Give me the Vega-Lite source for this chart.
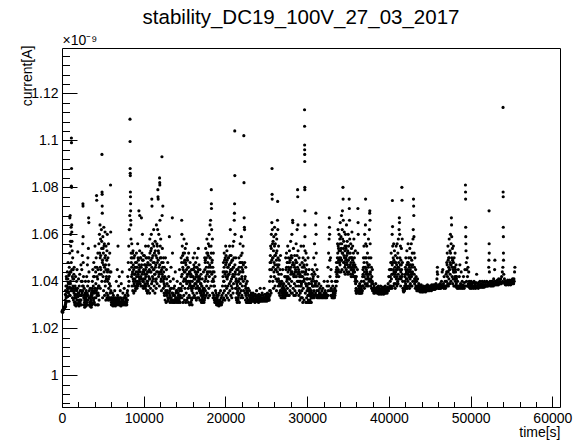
{
"$schema": "https://vega.github.io/schema/vega-lite/v6.json",
"width": 498,
"height": 359,
"autosize": {"type": "none"},
"padding": {"left": 62, "top": 48, "right": 17, "bottom": 33},
"background": "white",
"config": {
  "view": {"stroke": "black", "strokeWidth": 1},
  "font": "Liberation Sans",
  "axis": {"grid": false, "domain": false, "labelColor": "black", "titleColor": "black", "tickColor": "black", "labelFont": "Liberation Sans", "titleFont": "Liberation Sans", "titleFontWeight": "normal"}
},
"title": {"text": "stability_DC19_100V_27_03_2017", "fontSize": 20.5, "font": "Liberation Sans", "fontWeight": "normal", "color": "black", "anchor": "middle", "dx": -10, "offset": 5},
"datasets": {"pts": [
{"t":0,"c":1.027},{"t":40,"c":1.0275},{"t":90,"c":1.0268},{"t":130,"c":1.028},{"t":180,"c":1.0278},{"t":230,"c":1.0285},{"t":270,"c":1.029},{"t":320,"c":1.0283},{"t":370,"c":1.0295},{"t":410,"c":1.03},{"t":450,"c":1.031},{"t":440,"c":1.0292},
{"t":390,"c":1.032},{"t":420,"c":1.0345},{"t":450,"c":1.0305},{"t":480,"c":1.038},{"t":510,"c":1.033},{"t":550,"c":1.041},{"t":580,"c":1.0355},{"t":620,"c":1.0315},{"t":650,"c":1.044},{"t":680,"c":1.037},{"t":710,"c":1.0335},{"t":740,"c":1.048},{"t":770,"c":1.0395},{"t":800,"c":1.035},{"t":830,"c":1.0425},{"t":860,"c":1.0315},{"t":890,"c":1.046},{"t":920,"c":1.0375},{"t":950,"c":1.052},{"t":980,"c":1.034},{"t":1010,"c":1.044},{"t":1040,"c":1.04},{"t":1070,"c":1.055},{"t":1100,"c":1.036},{"t":1130,"c":1.048},{"t":1150,"c":1.101},{"t":1160,"c":1.099},{"t":1170,"c":1.088},{"t":1150,"c":1.0805},{"t":1180,"c":1.08},{"t":1190,"c":1.064},{"t":1200,"c":1.061},{"t":1220,"c":1.057},{"t":1240,"c":1.053},{"t":1260,"c":1.042},{"t":1280,"c":1.033},{"t":1310,"c":1.05},{"t":1340,"c":1.038},{"t":1370,"c":1.045},{"t":1400,"c":1.032},{"t":1430,"c":1.041},{"t":1460,"c":1.035},{"t":1490,"c":1.046},{"t":1520,"c":1.031},{"t":960,"c":1.067},{"t":1000,"c":1.068},{"t":1060,"c":1.06},{"t":1110,"c":1.063},{"t":1040,"c":1.057},
{"t":1540,"c":1.033},{"t":1570,"c":1.03},{"t":1600,"c":1.038},{"t":1630,"c":1.031},{"t":1660,"c":1.042},{"t":1690,"c":1.0345},{"t":1720,"c":1.0295},{"t":1750,"c":1.0365},{"t":1780,"c":1.04},{"t":1810,"c":1.032},{"t":1840,"c":1.045},{"t":1870,"c":1.0305},{"t":1900,"c":1.037},{"t":1930,"c":1.0525},{"t":1960,"c":1.0335},{"t":1990,"c":1.03},{"t":2020,"c":1.041},{"t":2050,"c":1.035},{"t":2080,"c":1.0295},{"t":2110,"c":1.038},{"t":2140,"c":1.032},{"t":2170,"c":1.043},{"t":2200,"c":1.031},{"t":2230,"c":1.036},{"t":2260,"c":1.03},{"t":2290,"c":1.034},{"t":2320,"c":1.047},
{"t":2330,"c":1.032},{"t":2360,"c":1.04},{"t":2390,"c":1.03},{"t":2420,"c":1.045},{"t":2450,"c":1.035},{"t":2480,"c":1.051},{"t":2510,"c":1.038},{"t":2540,"c":1.056},{"t":2560,"c":1.073},{"t":2570,"c":1.072},{"t":2580,"c":1.059},{"t":2600,"c":1.048},{"t":2630,"c":1.042},{"t":2660,"c":1.033},{"t":2690,"c":1.03},{"t":2720,"c":1.037},{"t":2750,"c":1.031},{"t":2780,"c":1.029},{"t":2810,"c":1.035},{"t":2840,"c":1.03},{"t":2870,"c":1.04},{"t":2900,"c":1.032},{"t":2930,"c":1.0295},{"t":2960,"c":1.036},{"t":2990,"c":1.031},{"t":3020,"c":1.042},{"t":3050,"c":1.034},{"t":3080,"c":1.03},{"t":3110,"c":1.047},{"t":3140,"c":1.038},{"t":3170,"c":1.05},{"t":3200,"c":1.032},{"t":3230,"c":1.054},{"t":3260,"c":1.067},{"t":3280,"c":1.065},{"t":3300,"c":1.044},{"t":3330,"c":1.036},{"t":3360,"c":1.03},{"t":3390,"c":1.033},{"t":3420,"c":1.0295},{"t":3450,"c":1.037},{"t":3480,"c":1.031},{"t":3510,"c":1.03},{"t":3540,"c":1.034},{"t":3570,"c":1.029},{"t":3600,"c":1.035},
{"t":3620,"c":1.031},{"t":3650,"c":1.036},{"t":3680,"c":1.03},{"t":3710,"c":1.04},{"t":3740,"c":1.033},{"t":3770,"c":1.045},{"t":3800,"c":1.0305},{"t":3830,"c":1.038},{"t":3860,"c":1.032},{"t":3890,"c":1.048},{"t":3920,"c":1.035},{"t":3950,"c":1.031},{"t":3980,"c":1.042},{"t":4040,"c":1.055},{"t":4060,"c":1.037},{"t":4090,"c":1.03},{"t":4120,"c":1.044},{"t":4150,"c":1.033},{"t":4180,"c":1.05},{"t":4210,"c":1.036},{"t":4230,"c":1.0765},{"t":4250,"c":1.0745},{"t":4270,"c":1.046},{"t":4300,"c":1.034},{"t":4330,"c":1.03},{"t":4360,"c":1.041},{"t":4390,"c":1.052},{"t":4420,"c":1.035},{"t":4450,"c":1.03},{"t":4480,"c":1.038},{"t":4510,"c":1.056},{"t":4540,"c":1.032},{"t":4570,"c":1.043},
{"t":4580,"c":1.06},{"t":4650,"c":1.064},{"t":4670,"c":1.05},{"t":4690,"c":1.037},{"t":4720,"c":1.058},{"t":4750,"c":1.045},{"t":4850,"c":1.054},{"t":4880,"c":1.04},{"t":4890,"c":1.094},{"t":4900,"c":1.078},{"t":4910,"c":1.077},{"t":4920,"c":1.072},{"t":4930,"c":1.069},{"t":4940,"c":1.048},{"t":4820,"c":1.062},{"t":4970,"c":1.033},{"t":5000,"c":1.059},{"t":5030,"c":1.042},{"t":5060,"c":1.052},{"t":5090,"c":1.036},{"t":5120,"c":1.063},{"t":5150,"c":1.044},{"t":5180,"c":1.056},{"t":5210,"c":1.034},{"t":5240,"c":1.05},{"t":5270,"c":1.061},{"t":5300,"c":1.038},{"t":5330,"c":1.047},{"t":5360,"c":1.032},{"t":5390,"c":1.055},{"t":5420,"c":1.041},{"t":5450,"c":1.035},{"t":5480,"c":1.049},{"t":5510,"c":1.033},{"t":5540,"c":1.06},{"t":5570,"c":1.04},{"t":5600,"c":1.034},{"t":5630,"c":1.045},{"t":5660,"c":1.032},{"t":5690,"c":1.056},{"t":5720,"c":1.037},{"t":5750,"c":1.033},{"t":5780,"c":1.042},{"t":5810,"c":1.033},{"t":5840,"c":1.052},{"t":5870,"c":1.035},{"t":5900,"c":1.032},{"t":5940,"c":1.081},{"t":5960,"c":1.061},{"t":5990,"c":1.044},{"t":6020,"c":1.033},{"t":6050,"c":1.03},
{"t":6050,"c":1.031},{"t":6090,"c":1.033},{"t":6130,"c":1.03},{"t":6170,"c":1.035},{"t":6210,"c":1.031},{"t":6250,"c":1.0295},{"t":6290,"c":1.034},{"t":6330,"c":1.0305},{"t":6370,"c":1.032},{"t":6410,"c":1.03},{"t":6450,"c":1.036},{"t":6490,"c":1.031},{"t":6530,"c":1.0295},{"t":6570,"c":1.033},{"t":6610,"c":1.0305},{"t":6650,"c":1.04},{"t":6690,"c":1.032},{"t":6730,"c":1.03},{"t":6770,"c":1.045},{"t":6810,"c":1.034},{"t":6850,"c":1.055},{"t":6890,"c":1.031},{"t":6930,"c":1.038},{"t":6970,"c":1.03},{"t":7010,"c":1.042},{"t":7050,"c":1.033},{"t":7090,"c":1.03},{"t":7130,"c":1.036},{"t":7170,"c":1.031},{"t":7210,"c":1.0295},{"t":7250,"c":1.039},{"t":7290,"c":1.032},{"t":7330,"c":1.03},{"t":7370,"c":1.044},{"t":7410,"c":1.031},{"t":7450,"c":1.035},{"t":7490,"c":1.03},{"t":7530,"c":1.033},{"t":7570,"c":1.0305},{"t":7610,"c":1.037},{"t":7650,"c":1.031},{"t":7690,"c":1.03},{"t":7730,"c":1.034},{"t":7770,"c":1.031},{"t":7810,"c":1.03},{"t":7850,"c":1.033},{"t":7890,"c":1.031},{"t":7930,"c":1.03},{"t":7970,"c":1.035},{"t":8010,"c":1.032},
{"t":8020,"c":1.036},{"t":8050,"c":1.042},{"t":8080,"c":1.034},{"t":8110,"c":1.048},{"t":8140,"c":1.038},{"t":8170,"c":1.055},{"t":8200,"c":1.04},{"t":8230,"c":1.062},{"t":8260,"c":1.045},{"t":8290,"c":1.068},{"t":8320,"c":1.109},{"t":8330,"c":1.0995},{"t":8340,"c":1.088},{"t":8350,"c":1.086},{"t":8360,"c":1.085},{"t":8370,"c":1.078},{"t":8380,"c":1.076},{"t":8390,"c":1.073},{"t":8400,"c":1.07},{"t":8410,"c":1.066},{"t":8420,"c":1.064},{"t":8440,"c":1.058},{"t":8460,"c":1.052},{"t":8480,"c":1.048},{"t":8510,"c":1.042},{"t":8540,"c":1.056},{"t":8570,"c":1.038},{"t":8600,"c":1.05},{"t":8630,"c":1.044},{"t":8660,"c":1.036},{"t":8690,"c":1.053},{"t":8720,"c":1.047},{"t":8750,"c":1.04},{"t":8780,"c":1.035},{"t":8810,"c":1.05},{"t":8840,"c":1.043},{"t":8870,"c":1.038},{"t":8900,"c":1.046},{"t":8930,"c":1.041},{"t":8960,"c":1.036},{"t":8990,"c":1.048},{"t":9020,"c":1.04},{"t":9050,"c":1.044},{"t":9080,"c":1.038},{"t":9110,"c":1.052},{"t":9140,"c":1.042},{"t":9170,"c":1.037},{"t":9200,"c":1.046},{"t":9230,"c":1.04},{"t":9260,"c":1.056},{"t":9290,"c":1.038},{"t":9320,"c":1.043},{"t":9350,"c":1.049},{"t":9380,"c":1.039},{"t":9410,"c":1.07},{"t":9440,"c":1.045},{"t":9470,"c":1.04},{"t":9500,"c":1.053},
{"t":9510,"c":1.068},{"t":9540,"c":1.044},{"t":9570,"c":1.039},{"t":9600,"c":1.05},{"t":9630,"c":1.042},{"t":9660,"c":1.038},{"t":9690,"c":1.046},{"t":9720,"c":1.067},{"t":9750,"c":1.041},{"t":9780,"c":1.052},{"t":9810,"c":1.038},{"t":9840,"c":1.06},{"t":9870,"c":1.044},{"t":9900,"c":1.04},{"t":9930,"c":1.049},{"t":9960,"c":1.037},{"t":9990,"c":1.045},{"t":10020,"c":1.041},{"t":10050,"c":1.038},{"t":10080,"c":1.051},{"t":10110,"c":1.043},{"t":10140,"c":1.039},{"t":10170,"c":1.047},{"t":10200,"c":1.037},{"t":10230,"c":1.055},{"t":10260,"c":1.042},{"t":10290,"c":1.038},{"t":10320,"c":1.046},{"t":10350,"c":1.036},{"t":10380,"c":1.05},{"t":10410,"c":1.04},{"t":10440,"c":1.035},{"t":10470,"c":1.044},
{"t":10480,"c":1.04},{"t":10510,"c":1.048},{"t":10540,"c":1.036},{"t":10570,"c":1.055},{"t":10600,"c":1.042},{"t":10630,"c":1.038},{"t":10660,"c":1.05},{"t":10690,"c":1.045},{"t":10720,"c":1.035},{"t":10750,"c":1.058},{"t":10780,"c":1.041},{"t":10810,"c":1.047},{"t":10840,"c":1.037},{"t":10870,"c":1.053},{"t":10900,"c":1.044},{"t":10930,"c":1.06},{"t":10960,"c":1.039},{"t":10990,"c":1.075},{"t":11010,"c":1.072},{"t":11040,"c":1.05},{"t":11070,"c":1.042},{"t":11100,"c":1.056},{"t":11130,"c":1.036},{"t":11160,"c":1.048},{"t":11190,"c":1.041},{"t":11220,"c":1.062},{"t":11250,"c":1.045},{"t":11280,"c":1.038},{"t":11310,"c":1.052},{"t":11340,"c":1.043},{"t":11370,"c":1.035},{"t":11400,"c":1.057},{"t":11430,"c":1.046},{"t":11460,"c":1.04},{"t":11490,"c":1.051},{"t":11520,"c":1.037},{"t":11550,"c":1.064},{"t":11580,"c":1.044},{"t":11610,"c":1.056},{"t":11640,"c":1.039},{"t":11670,"c":1.048},{"t":11700,"c":1.062},{"t":11730,"c":1.079},{"t":11750,"c":1.076},{"t":11770,"c":1.075},{"t":11790,"c":1.053},{"t":11820,"c":1.042},{"t":11850,"c":1.06},{"t":11880,"c":1.046},{"t":11910,"c":1.038},{"t":11940,"c":1.084},{"t":11960,"c":1.082},{"t":11970,"c":1.081},{"t":11990,"c":1.066},{"t":12020,"c":1.055},{"t":12050,"c":1.044},{"t":12080,"c":1.058},{"t":12110,"c":1.04},{"t":12140,"c":1.05},{"t":12170,"c":1.036},{"t":12200,"c":1.045},{"t":12230,"c":1.093},{"t":12250,"c":1.068},{"t":12280,"c":1.054},{"t":12310,"c":1.042},{"t":12340,"c":1.072},{"t":12370,"c":1.048},{"t":12400,"c":1.037},{"t":12430,"c":1.05},{"t":12460,"c":1.041},{"t":12490,"c":1.035},{"t":12520,"c":1.046},{"t":12550,"c":1.038},
{"t":12540,"c":1.034},{"t":12580,"c":1.042},{"t":12620,"c":1.032},{"t":12660,"c":1.05},{"t":12700,"c":1.036},{"t":12740,"c":1.031},{"t":12780,"c":1.045},{"t":12820,"c":1.034},{"t":12860,"c":1.039},{"t":12900,"c":1.0315},{"t":12940,"c":1.048},{"t":12980,"c":1.035},{"t":13020,"c":1.032},{"t":13060,"c":1.042},{"t":13100,"c":1.033},{"t":13140,"c":1.059},{"t":13180,"c":1.036},{"t":13220,"c":1.031},{"t":13260,"c":1.04},{"t":13300,"c":1.033},{"t":13340,"c":1.046},{"t":13380,"c":1.032},{"t":13420,"c":1.037},{"t":13460,"c":1.031},{"t":13500,"c":1.067},{"t":13520,"c":1.052},{"t":13540,"c":1.035},{"t":13580,"c":1.032},{"t":13620,"c":1.041},{"t":13660,"c":1.031},{"t":13700,"c":1.034},{"t":13740,"c":1.032},{"t":13780,"c":1.038},{"t":13820,"c":1.031},{"t":13860,"c":1.044},{"t":13900,"c":1.033},{"t":13940,"c":1.0315},{"t":13980,"c":1.036},{"t":14020,"c":1.032},{"t":14060,"c":1.031},{"t":14100,"c":1.04},{"t":14140,"c":1.033},{"t":14180,"c":1.0315},{"t":14220,"c":1.035},{"t":14260,"c":1.031},{"t":14300,"c":1.037},{"t":14340,"c":1.032},{"t":14380,"c":1.045},{"t":14420,"c":1.034},{"t":14460,"c":1.031},{"t":14500,"c":1.039},{"t":14540,"c":1.033},{"t":14580,"c":1.05},{"t":14620,"c":1.036},
{"t":14620,"c":1.042},{"t":14650,"c":1.066},{"t":14670,"c":1.06},{"t":14690,"c":1.033},{"t":14720,"c":1.055},{"t":14750,"c":1.038},{"t":14780,"c":1.046},{"t":14810,"c":1.031},{"t":14840,"c":1.052},{"t":14870,"c":1.04},{"t":14900,"c":1.034},{"t":14930,"c":1.058},{"t":14960,"c":1.044},{"t":14990,"c":1.032},{"t":15020,"c":1.049},{"t":15050,"c":1.037},{"t":15080,"c":1.054},{"t":15110,"c":1.041},{"t":15140,"c":1.031},{"t":15170,"c":1.047},{"t":15200,"c":1.035},{"t":15230,"c":1.056},{"t":15260,"c":1.039},{"t":15290,"c":1.032},{"t":15320,"c":1.05},{"t":15350,"c":1.043},{"t":15380,"c":1.033},{"t":15410,"c":1.046},{"t":15440,"c":1.037},{"t":15470,"c":1.031},{"t":15500,"c":1.052},{"t":15530,"c":1.04},{"t":15560,"c":1.034},{"t":15590,"c":1.044},{"t":15620,"c":1.03},{"t":15650,"c":1.039},{"t":15680,"c":1.048},{"t":15710,"c":1.033},{"t":15740,"c":1.042},{"t":15770,"c":1.031},{"t":15800,"c":1.037},{"t":15830,"c":1.045},{"t":15860,"c":1.032},{"t":15890,"c":1.036},{"t":15920,"c":1.03},{"t":15950,"c":1.04},{"t":15980,"c":1.033},
{"t":15990,"c":1.045},{"t":16020,"c":1.035},{"t":16050,"c":1.05},{"t":16080,"c":1.038},{"t":16110,"c":1.033},{"t":16140,"c":1.047},{"t":16170,"c":1.041},{"t":16200,"c":1.034},{"t":16230,"c":1.052},{"t":16260,"c":1.039},{"t":16290,"c":1.044},{"t":16320,"c":1.033},{"t":16350,"c":1.048},{"t":16380,"c":1.037},{"t":16410,"c":1.042},{"t":16440,"c":1.032},{"t":16470,"c":1.046},{"t":16500,"c":1.035},{"t":16530,"c":1.05},{"t":16560,"c":1.04},{"t":16590,"c":1.033},{"t":16620,"c":1.044},{"t":16650,"c":1.037},{"t":16680,"c":1.054},{"t":16710,"c":1.041},{"t":16740,"c":1.033},{"t":16770,"c":1.047},{"t":16800,"c":1.036},{"t":16830,"c":1.042},{"t":16860,"c":1.032},{"t":16890,"c":1.045},{"t":16920,"c":1.035},{"t":16950,"c":1.039},{"t":16980,"c":1.032},{"t":17010,"c":1.043},{"t":17040,"c":1.034},{"t":17070,"c":1.031},{"t":17100,"c":1.038},{"t":17130,"c":1.032},{"t":17160,"c":1.041},{"t":17190,"c":1.033},{"t":17220,"c":1.031},{"t":17250,"c":1.036},{"t":17280,"c":1.032},{"t":17310,"c":1.044},{"t":17340,"c":1.034},{"t":17370,"c":1.031},{"t":17400,"c":1.037},{"t":17430,"c":1.032},{"t":17460,"c":1.05},
{"t":17460,"c":1.04},{"t":17490,"c":1.033},{"t":17520,"c":1.048},{"t":17550,"c":1.036},{"t":17580,"c":1.054},{"t":17610,"c":1.042},{"t":17640,"c":1.034},{"t":17670,"c":1.05},{"t":17700,"c":1.038},{"t":17730,"c":1.058},{"t":17760,"c":1.044},{"t":17790,"c":1.035},{"t":17820,"c":1.052},{"t":17850,"c":1.04},{"t":17880,"c":1.033},{"t":17910,"c":1.056},{"t":17940,"c":1.046},{"t":17970,"c":1.037},{"t":18000,"c":1.06},{"t":18030,"c":1.042},{"t":18060,"c":1.034},{"t":18090,"c":1.05},{"t":18120,"c":1.064},{"t":18150,"c":1.044},{"t":18180,"c":1.066},{"t":18210,"c":1.038},{"t":18240,"c":1.055},{"t":18270,"c":1.079},{"t":18280,"c":1.073},{"t":18290,"c":1.071},{"t":18310,"c":1.062},{"t":18340,"c":1.048},{"t":18370,"c":1.04},{"t":18400,"c":1.058},{"t":18430,"c":1.035},{"t":18460,"c":1.046},{"t":18490,"c":1.033},{"t":18520,"c":1.052},{"t":18550,"c":1.04},{"t":18580,"c":1.034},{"t":18610,"c":1.044},{"t":18640,"c":1.032},{"t":18670,"c":1.038},{"t":18700,"c":1.031},{"t":18730,"c":1.042},{"t":18760,"c":1.033},{"t":18790,"c":1.036},{"t":18820,"c":1.031},{"t":18850,"c":1.035},{"t":18880,"c":1.032},{"t":18910,"c":1.03},{"t":18940,"c":1.034},{"t":18970,"c":1.031},{"t":19000,"c":1.033},{"t":19030,"c":1.03},
{"t":19040,"c":1.032},{"t":19080,"c":1.03},{"t":19120,"c":1.034},{"t":19160,"c":1.031},{"t":19200,"c":1.0295},{"t":19240,"c":1.035},{"t":19280,"c":1.031},{"t":19320,"c":1.032},{"t":19360,"c":1.03},{"t":19400,"c":1.036},{"t":19440,"c":1.031},{"t":19480,"c":1.033},{"t":19520,"c":1.03},{"t":19560,"c":1.034},{"t":19600,"c":1.031},{"t":19640,"c":1.038},{"t":19680,"c":1.032},
{"t":19700,"c":1.042},{"t":19730,"c":1.035},{"t":19760,"c":1.048},{"t":19790,"c":1.033},{"t":19820,"c":1.04},{"t":19850,"c":1.052},{"t":19880,"c":1.036},{"t":19910,"c":1.044},{"t":19940,"c":1.032},{"t":19970,"c":1.05},{"t":20000,"c":1.038},{"t":20030,"c":1.055},{"t":20060,"c":1.042},{"t":20090,"c":1.034},{"t":20120,"c":1.048},{"t":20150,"c":1.037},{"t":20180,"c":1.053},{"t":20210,"c":1.041},{"t":20240,"c":1.033},{"t":20270,"c":1.046},{"t":20300,"c":1.038},{"t":20330,"c":1.05},{"t":20360,"c":1.035},{"t":20390,"c":1.043},{"t":20420,"c":1.032},{"t":20450,"c":1.047},{"t":20480,"c":1.039},{"t":20510,"c":1.055},{"t":20540,"c":1.036},{"t":20570,"c":1.044},{"t":20600,"c":1.062},{"t":20630,"c":1.04},{"t":20660,"c":1.034},{"t":20690,"c":1.051},{"t":20720,"c":1.038},{"t":20750,"c":1.045},{"t":20780,"c":1.033},{"t":20810,"c":1.049},{"t":20840,"c":1.037},{"t":20870,"c":1.042},{"t":20900,"c":1.055},{"t":20930,"c":1.035},{"t":20960,"c":1.046},{"t":20990,"c":1.039},{"t":21020,"c":1.057},{"t":21050,"c":1.042},{"t":21080,"c":1.066},{"t":21100,"c":1.069},{"t":21120,"c":1.073},{"t":21140,"c":1.104},{"t":21150,"c":1.085},{"t":21170,"c":1.06},{"t":21200,"c":1.044},{"t":21230,"c":1.037},{"t":21260,"c":1.05},{"t":21290,"c":1.033},{"t":21320,"c":1.041},{"t":21350,"c":1.032},{"t":21380,"c":1.045},{"t":21410,"c":1.035},{"t":21440,"c":1.031},{"t":21470,"c":1.038},{"t":21500,"c":1.033},
{"t":21500,"c":1.036},{"t":21530,"c":1.045},{"t":21560,"c":1.032},{"t":21590,"c":1.04},{"t":21620,"c":1.034},{"t":21650,"c":1.05},{"t":21680,"c":1.037},{"t":21710,"c":1.031},{"t":21740,"c":1.044},{"t":21770,"c":1.035},{"t":21800,"c":1.056},{"t":21830,"c":1.039},{"t":21860,"c":1.033},{"t":21890,"c":1.048},{"t":21920,"c":1.036},{"t":21950,"c":1.059},{"t":21980,"c":1.041},{"t":22010,"c":1.034},{"t":22040,"c":1.052},{"t":22070,"c":1.038},{"t":22100,"c":1.045},{"t":22130,"c":1.033},{"t":22160,"c":1.055},{"t":22190,"c":1.04},{"t":22220,"c":1.036},{"t":22250,"c":1.102},{"t":22270,"c":1.082},{"t":22290,"c":1.067},{"t":22320,"c":1.063},{"t":22340,"c":1.062},{"t":22360,"c":1.048},{"t":22390,"c":1.035},{"t":22420,"c":1.042},{"t":22450,"c":1.032},{"t":22480,"c":1.046},{"t":22510,"c":1.034},{"t":22540,"c":1.039},{"t":22570,"c":1.031},{"t":22600,"c":1.036},{"t":22630,"c":1.033},{"t":22660,"c":1.04},{"t":22690,"c":1.031},{"t":22720,"c":1.035},{"t":22750,"c":1.032},{"t":22780,"c":1.037},{"t":22810,"c":1.031},{"t":22840,"c":1.034},{"t":22870,"c":1.032},{"t":22900,"c":1.031},{"t":22930,"c":1.036},{"t":22960,"c":1.032},{"t":22990,"c":1.033},{"t":23020,"c":1.031},{"t":23050,"c":1.034},{"t":23080,"c":1.032},{"t":23110,"c":1.031},{"t":23140,"c":1.035},{"t":23170,"c":1.032},
{"t":23170,"c":1.033},{"t":23210,"c":1.032},{"t":23250,"c":1.034},{"t":23290,"c":1.0315},{"t":23330,"c":1.033},{"t":23370,"c":1.035},{"t":23410,"c":1.032},{"t":23450,"c":1.0335},{"t":23490,"c":1.0315},{"t":23530,"c":1.034},{"t":23570,"c":1.0325},{"t":23610,"c":1.031},{"t":23650,"c":1.0345},{"t":23690,"c":1.032},{"t":23730,"c":1.0335},{"t":23770,"c":1.0315},{"t":23810,"c":1.036},{"t":23850,"c":1.0325},{"t":23890,"c":1.0315},{"t":23930,"c":1.034},{"t":23970,"c":1.032},{"t":24010,"c":1.033},{"t":24050,"c":1.031},{"t":24090,"c":1.0345},{"t":24130,"c":1.0325},{"t":24170,"c":1.0335},{"t":24210,"c":1.0315},{"t":24250,"c":1.037},{"t":24290,"c":1.0325},{"t":24330,"c":1.034},{"t":24370,"c":1.0315},{"t":24410,"c":1.033},{"t":24450,"c":1.032},{"t":24490,"c":1.035},{"t":24530,"c":1.0325},{"t":24570,"c":1.0315},{"t":24610,"c":1.034},{"t":24650,"c":1.033},{"t":24690,"c":1.032},{"t":24730,"c":1.037},{"t":24770,"c":1.033},{"t":24810,"c":1.0315},{"t":24850,"c":1.0345},{"t":24890,"c":1.0325},{"t":24930,"c":1.0335},{"t":24970,"c":1.032},{"t":25010,"c":1.034},{"t":25050,"c":1.0315},{"t":25090,"c":1.033},{"t":25130,"c":1.035},{"t":25170,"c":1.032},{"t":25210,"c":1.0335},{"t":25250,"c":1.032},{"t":25290,"c":1.0345},{"t":25330,"c":1.033},{"t":25370,"c":1.032},{"t":25410,"c":1.036},
{"t":25410,"c":1.04},{"t":25440,"c":1.034},{"t":25470,"c":1.048},{"t":25500,"c":1.036},{"t":25530,"c":1.055},{"t":25560,"c":1.042},{"t":25590,"c":1.035},{"t":25620,"c":1.06},{"t":25650,"c":1.045},{"t":25680,"c":1.065},{"t":25700,"c":1.088},{"t":25710,"c":1.077},{"t":25720,"c":1.075},{"t":25740,"c":1.062},{"t":25770,"c":1.05},{"t":25800,"c":1.04},{"t":25830,"c":1.057},{"t":25860,"c":1.046},{"t":25890,"c":1.037},{"t":25920,"c":1.059},{"t":25950,"c":1.048},{"t":25980,"c":1.042},{"t":26010,"c":1.063},{"t":26040,"c":1.051},{"t":26070,"c":1.038},{"t":26100,"c":1.056},{"t":26130,"c":1.045},{"t":26160,"c":1.06},{"t":26190,"c":1.041},{"t":26220,"c":1.052},{"t":26250,"c":1.036},{"t":26280,"c":1.058},{"t":26310,"c":1.047},{"t":26340,"c":1.04},{"t":26370,"c":1.066},{"t":26390,"c":1.074},{"t":26410,"c":1.062},{"t":26440,"c":1.05},{"t":26470,"c":1.038},{"t":26500,"c":1.055},{"t":26530,"c":1.043},{"t":26560,"c":1.035},{"t":26590,"c":1.049},{"t":26620,"c":1.04},{"t":26650,"c":1.034},{"t":26680,"c":1.045},{"t":26710,"c":1.036},{"t":26740,"c":1.051},{"t":26770,"c":1.039},{"t":26800,"c":1.033},{"t":26830,"c":1.043},{"t":26860,"c":1.035},{"t":26890,"c":1.04},{"t":26920,"c":1.033},{"t":26950,"c":1.037},{"t":26980,"c":1.034},{"t":27010,"c":1.045},{"t":27040,"c":1.033},{"t":27070,"c":1.036},{"t":27100,"c":1.034},{"t":27130,"c":1.039},{"t":27160,"c":1.033},{"t":27190,"c":1.035},{"t":27220,"c":1.034},{"t":27250,"c":1.042},{"t":27280,"c":1.033},{"t":27310,"c":1.036},{"t":27340,"c":1.034},{"t":27370,"c":1.05},
{"t":27380,"c":1.038},{"t":27410,"c":1.045},{"t":27440,"c":1.034},{"t":27470,"c":1.052},{"t":27500,"c":1.04},{"t":27530,"c":1.035},{"t":27560,"c":1.048},{"t":27590,"c":1.037},{"t":27620,"c":1.055},{"t":27650,"c":1.042},{"t":27680,"c":1.034},{"t":27710,"c":1.05},{"t":27740,"c":1.039},{"t":27770,"c":1.045},{"t":27800,"c":1.034},{"t":27830,"c":1.053},{"t":27860,"c":1.041},{"t":27890,"c":1.036},{"t":27920,"c":1.049},{"t":27950,"c":1.038},{"t":27980,"c":1.057},{"t":28010,"c":1.043},{"t":28040,"c":1.035},{"t":28070,"c":1.051},{"t":28100,"c":1.04},{"t":28130,"c":1.06},{"t":28160,"c":1.044},{"t":28190,"c":1.035},{"t":28220,"c":1.066},{"t":28240,"c":1.065},{"t":28260,"c":1.048},{"t":28290,"c":1.037},{"t":28320,"c":1.054},{"t":28350,"c":1.042},{"t":28380,"c":1.034},{"t":28410,"c":1.047},{"t":28440,"c":1.039},{"t":28470,"c":1.051},{"t":28500,"c":1.036},{"t":28530,"c":1.044},{"t":28560,"c":1.034},{"t":28590,"c":1.049},{"t":28620,"c":1.038},{"t":28650,"c":1.056},{"t":28680,"c":1.042},{"t":28710,"c":1.035},{"t":28740,"c":1.048},{"t":28770,"c":1.062},{"t":28800,"c":1.04},{"t":28830,"c":1.079},{"t":28850,"c":1.076},{"t":28870,"c":1.064},{"t":28890,"c":1.053},{"t":28920,"c":1.038},{"t":28950,"c":1.045},{"t":28980,"c":1.034},{"t":29010,"c":1.05},{"t":29040,"c":1.036},{"t":29070,"c":1.042},{"t":29100,"c":1.032},{"t":29130,"c":1.047},{"t":29160,"c":1.035},{"t":29190,"c":1.04},{"t":29220,"c":1.033},{"t":29250,"c":1.055},{"t":29280,"c":1.038},{"t":29310,"c":1.033},{"t":29340,"c":1.044},
{"t":29350,"c":1.036},{"t":29380,"c":1.048},{"t":29410,"c":1.033},{"t":29440,"c":1.042},{"t":29470,"c":1.031},{"t":29500,"c":1.05},{"t":29530,"c":1.037},{"t":29560,"c":1.055},{"t":29590,"c":1.04},{"t":29620,"c":1.032},{"t":29650,"c":1.046},{"t":29680,"c":1.113},{"t":29685,"c":1.106},{"t":29690,"c":1.098},{"t":29695,"c":1.096},{"t":29700,"c":1.094},{"t":29705,"c":1.091},{"t":29710,"c":1.08},{"t":29715,"c":1.079},{"t":29720,"c":1.07},{"t":29725,"c":1.064},{"t":29730,"c":1.059},{"t":29740,"c":1.053},{"t":29750,"c":1.049},{"t":29780,"c":1.035},{"t":29810,"c":1.044},{"t":29840,"c":1.031},{"t":29870,"c":1.052},{"t":29900,"c":1.038},{"t":29930,"c":1.033},{"t":29960,"c":1.047},{"t":29990,"c":1.036},{"t":30020,"c":1.031},{"t":30050,"c":1.043},{"t":30080,"c":1.034},{"t":30110,"c":1.05},{"t":30140,"c":1.032},{"t":30170,"c":1.039},{"t":30200,"c":1.031},{"t":30230,"c":1.045},{"t":30260,"c":1.034},{"t":30290,"c":1.031},{"t":30320,"c":1.037},{"t":30350,"c":1.032},{"t":30380,"c":1.041},{"t":30410,"c":1.031},{"t":30440,"c":1.035},{"t":30470,"c":1.033},{"t":30500,"c":1.031},
{"t":30510,"c":1.036},{"t":30540,"c":1.034},{"t":30570,"c":1.04},{"t":30600,"c":1.033},{"t":30630,"c":1.045},{"t":30660,"c":1.035},{"t":30690,"c":1.038},{"t":30720,"c":1.033},{"t":30750,"c":1.042},{"t":30780,"c":1.034},{"t":30810,"c":1.05},{"t":30840,"c":1.036},{"t":30870,"c":1.033},{"t":30900,"c":1.056},{"t":30930,"c":1.038},{"t":30960,"c":1.034},{"t":30990,"c":1.047},{"t":31020,"c":1.035},{"t":31050,"c":1.064},{"t":31070,"c":1.069},{"t":31090,"c":1.06},{"t":31110,"c":1.052},{"t":31140,"c":1.04},{"t":31170,"c":1.034},{"t":31200,"c":1.045},{"t":31230,"c":1.033},{"t":31260,"c":1.038},{"t":31290,"c":1.034},{"t":31320,"c":1.042},{"t":31350,"c":1.033},{"t":31380,"c":1.036},{"t":31410,"c":1.034},{"t":31440,"c":1.039},{"t":31470,"c":1.033},{"t":31500,"c":1.035},{"t":31530,"c":1.034},{"t":31560,"c":1.037},{"t":31590,"c":1.033},{"t":31620,"c":1.035},{"t":31650,"c":1.034},{"t":31680,"c":1.038},
{"t":31720,"c":1.034},{"t":31760,"c":1.033},{"t":31800,"c":1.036},{"t":31840,"c":1.034},{"t":31880,"c":1.033},{"t":31920,"c":1.037},{"t":31960,"c":1.034},{"t":32000,"c":1.033},{"t":32040,"c":1.035},{"t":32080,"c":1.04},{"t":32120,"c":1.034},{"t":32160,"c":1.033},{"t":32200,"c":1.036},{"t":32240,"c":1.034},{"t":32280,"c":1.033},{"t":32320,"c":1.035},{"t":32360,"c":1.034},{"t":32400,"c":1.033},{"t":32440,"c":1.038},{"t":32480,"c":1.034},
{"t":32500,"c":1.04},{"t":32530,"c":1.034},{"t":32560,"c":1.046},{"t":32590,"c":1.036},{"t":32620,"c":1.052},{"t":32650,"c":1.038},{"t":32680,"c":1.058},{"t":32710,"c":1.067},{"t":32730,"c":1.063},{"t":32750,"c":1.06},{"t":32770,"c":1.049},{"t":32800,"c":1.042},{"t":32830,"c":1.036},{"t":32860,"c":1.05},{"t":32890,"c":1.034},{"t":32920,"c":1.045},{"t":32950,"c":1.037},{"t":32980,"c":1.034},{"t":33010,"c":1.04},{"t":33040,"c":1.033},{"t":33070,"c":1.036},{"t":33100,"c":1.034},{"t":33130,"c":1.038},{"t":33160,"c":1.033},{"t":33190,"c":1.035},{"t":33220,"c":1.034},{"t":33250,"c":1.033},{"t":33280,"c":1.036},{"t":33310,"c":1.034},{"t":33340,"c":1.033},{"t":33370,"c":1.037},{"t":33400,"c":1.034},{"t":33430,"c":1.035},{"t":33460,"c":1.04},{"t":33490,"c":1.036},{"t":33520,"c":1.044},{"t":33550,"c":1.038},{"t":33580,"c":1.048},{"t":33610,"c":1.042},{"t":33640,"c":1.046},{"t":33670,"c":1.04},{"t":33700,"c":1.05},{"t":33730,"c":1.044},
{"t":33720,"c":1.056},{"t":33750,"c":1.048},{"t":33780,"c":1.062},{"t":33810,"c":1.045},{"t":33840,"c":1.054},{"t":33870,"c":1.042},{"t":33900,"c":1.06},{"t":33930,"c":1.05},{"t":33960,"c":1.044},{"t":33990,"c":1.058},{"t":34020,"c":1.047},{"t":34050,"c":1.065},{"t":34080,"c":1.053},{"t":34110,"c":1.044},{"t":34140,"c":1.059},{"t":34170,"c":1.049},{"t":34200,"c":1.068},{"t":34230,"c":1.056},{"t":34260,"c":1.045},{"t":34290,"c":1.062},{"t":34320,"c":1.07},{"t":34350,"c":1.052},{"t":34380,"c":1.08},{"t":34400,"c":1.075},{"t":34420,"c":1.066},{"t":34450,"c":1.048},{"t":34480,"c":1.057},{"t":34510,"c":1.044},{"t":34540,"c":1.061},{"t":34570,"c":1.05},{"t":34600,"c":1.046},{"t":34630,"c":1.055},{"t":34660,"c":1.043},{"t":34690,"c":1.06},{"t":34720,"c":1.049},{"t":34750,"c":1.054},{"t":34780,"c":1.045},{"t":34810,"c":1.064},{"t":34840,"c":1.051},{"t":34870,"c":1.044},{"t":34900,"c":1.057},{"t":34930,"c":1.047},{"t":34960,"c":1.053},{"t":34990,"c":1.043},{"t":35020,"c":1.06},{"t":35050,"c":1.049},{"t":35080,"c":1.055},{"t":35110,"c":1.044},{"t":35140,"c":1.075},{"t":35160,"c":1.071},{"t":35180,"c":1.066},{"t":35210,"c":1.058},{"t":35240,"c":1.046},{"t":35270,"c":1.052},{"t":35300,"c":1.043},{"t":35330,"c":1.056},{"t":35360,"c":1.048},{"t":35390,"c":1.042},{"t":35420,"c":1.054},{"t":35450,"c":1.045},{"t":35480,"c":1.061},{"t":35510,"c":1.05},{"t":35540,"c":1.043},{"t":35570,"c":1.055},{"t":35600,"c":1.047},{"t":35630,"c":1.042},{"t":35660,"c":1.052},{"t":35690,"c":1.045},{"t":35720,"c":1.058},{"t":35750,"c":1.044},{"t":35780,"c":1.05},{"t":35810,"c":1.042},{"t":35840,"c":1.047},{"t":35870,"c":1.04},{"t":35900,"c":1.053},{"t":35930,"c":1.039},{"t":35960,"c":1.046},{"t":35990,"c":1.037},{"t":36020,"c":1.042},{"t":35950,"c":1.036},{"t":36000,"c":1.035},
{"t":36030,"c":1.036},{"t":36060,"c":1.035},{"t":36090,"c":1.04},{"t":36120,"c":1.036},{"t":36150,"c":1.045},{"t":36180,"c":1.052},{"t":36210,"c":1.071},{"t":36230,"c":1.065},{"t":36250,"c":1.06},{"t":36280,"c":1.038},{"t":36310,"c":1.035},{"t":36340,"c":1.037},{"t":36370,"c":1.036},{"t":36400,"c":1.035},{"t":36430,"c":1.039},{"t":36460,"c":1.036},{"t":36490,"c":1.035},{"t":36520,"c":1.038},{"t":36550,"c":1.036},{"t":36580,"c":1.035},{"t":36610,"c":1.037},{"t":36640,"c":1.04},{"t":36670,"c":1.036},{"t":36700,"c":1.035},{"t":36730,"c":1.038},{"t":36760,"c":1.036},{"t":36790,"c":1.042},{"t":36820,"c":1.038},
{"t":36830,"c":1.045},{"t":36860,"c":1.038},{"t":36890,"c":1.05},{"t":36920,"c":1.04},{"t":36950,"c":1.055},{"t":36980,"c":1.042},{"t":37010,"c":1.037},{"t":37040,"c":1.06},{"t":37070,"c":1.046},{"t":37100,"c":1.039},{"t":37130,"c":1.064},{"t":37150,"c":1.075},{"t":37170,"c":1.056},{"t":37200,"c":1.043},{"t":37230,"c":1.05},{"t":37260,"c":1.038},{"t":37290,"c":1.055},{"t":37320,"c":1.044},{"t":37350,"c":1.039},{"t":37380,"c":1.052},{"t":37410,"c":1.041},{"t":37440,"c":1.047},{"t":37470,"c":1.038},{"t":37500,"c":1.058},{"t":37530,"c":1.043},{"t":37560,"c":1.05},{"t":37590,"c":1.04},{"t":37620,"c":1.062},{"t":37650,"c":1.069},{"t":37670,"c":1.07},{"t":37690,"c":1.066},{"t":37710,"c":1.056},{"t":37740,"c":1.044},{"t":37770,"c":1.038},{"t":37800,"c":1.05},{"t":37830,"c":1.04},{"t":37860,"c":1.046},{"t":37890,"c":1.037},{"t":37920,"c":1.042},{"t":37950,"c":1.037},{"t":37980,"c":1.045},{"t":38010,"c":1.036},{"t":38040,"c":1.039},{"t":38070,"c":1.037},
{"t":38070,"c":1.036},{"t":38110,"c":1.037},{"t":38150,"c":1.035},{"t":38190,"c":1.038},{"t":38230,"c":1.036},{"t":38270,"c":1.035},{"t":38310,"c":1.037},{"t":38350,"c":1.036},{"t":38390,"c":1.039},{"t":38430,"c":1.0355},{"t":38470,"c":1.037},{"t":38510,"c":1.036},{"t":38550,"c":1.035},{"t":38590,"c":1.0375},{"t":38630,"c":1.036},{"t":38670,"c":1.035},{"t":38710,"c":1.038},{"t":38750,"c":1.036},{"t":38790,"c":1.0345},{"t":38830,"c":1.037},{"t":38870,"c":1.0355},{"t":38910,"c":1.0365},{"t":38950,"c":1.035},{"t":38990,"c":1.038},{"t":39030,"c":1.036},{"t":39070,"c":1.0345},{"t":39110,"c":1.037},{"t":39150,"c":1.0355},{"t":39190,"c":1.0365},{"t":39230,"c":1.035},{"t":39270,"c":1.0375},{"t":39310,"c":1.036},{"t":39350,"c":1.0345},{"t":39390,"c":1.037},{"t":39430,"c":1.0355},{"t":39470,"c":1.0365},{"t":39510,"c":1.035},{"t":39550,"c":1.038},{"t":39590,"c":1.036},{"t":39630,"c":1.035},{"t":39670,"c":1.037},{"t":39710,"c":1.0355},{"t":39750,"c":1.0365},{"t":39790,"c":1.035},{"t":39830,"c":1.0375},{"t":39870,"c":1.036},{"t":39910,"c":1.039},{"t":39950,"c":1.036},{"t":39990,"c":1.042},{"t":40030,"c":1.037},{"t":40070,"c":1.045},{"t":40110,"c":1.038},
{"t":40160,"c":1.04},{"t":40190,"c":1.037},{"t":40220,"c":1.045},{"t":40250,"c":1.038},{"t":40280,"c":1.052},{"t":40310,"c":1.041},{"t":40340,"c":1.048},{"t":40370,"c":1.037},{"t":40400,"c":1.06},{"t":40430,"c":1.0744},{"t":40450,"c":1.0633},{"t":40470,"c":1.055},{"t":40500,"c":1.043},{"t":40530,"c":1.05},{"t":40560,"c":1.038},{"t":40590,"c":1.056},{"t":40620,"c":1.044},{"t":40650,"c":1.039},{"t":40680,"c":1.053},{"t":40710,"c":1.042},{"t":40740,"c":1.048},{"t":40770,"c":1.037},{"t":40800,"c":1.051},{"t":40830,"c":1.044},{"t":40860,"c":1.039},{"t":40890,"c":1.055},{"t":40920,"c":1.041},{"t":40950,"c":1.047},{"t":40980,"c":1.038},{"t":41010,"c":1.056},{"t":41040,"c":1.045},{"t":41070,"c":1.04},{"t":41100,"c":1.052},{"t":41130,"c":1.039},{"t":41160,"c":1.058},{"t":41190,"c":1.046},{"t":41220,"c":1.041},{"t":41250,"c":1.062},{"t":41280,"c":1.067},{"t":41300,"c":1.065},{"t":41320,"c":1.06},{"t":41350,"c":1.05},{"t":41380,"c":1.042},{"t":41410,"c":1.055},{"t":41440,"c":1.038},{"t":41470,"c":1.049},{"t":41500,"c":1.041},{"t":41530,"c":1.054},{"t":41560,"c":1.045},{"t":41590,"c":1.08},{"t":41610,"c":1.0745},{"t":41630,"c":1.058},{"t":41660,"c":1.048},{"t":41690,"c":1.04},{"t":41720,"c":1.037},{"t":41760,"c":1.036},{"t":41810,"c":1.0355},{"t":41860,"c":1.0365},{"t":41910,"c":1.036},
{"t":41930,"c":1.038},{"t":41960,"c":1.042},{"t":41990,"c":1.037},{"t":42020,"c":1.046},{"t":42050,"c":1.039},{"t":42080,"c":1.05},{"t":42110,"c":1.037},{"t":42140,"c":1.044},{"t":42170,"c":1.038},{"t":42200,"c":1.053},{"t":42230,"c":1.041},{"t":42260,"c":1.037},{"t":42290,"c":1.048},{"t":42320,"c":1.04},{"t":42350,"c":1.056},{"t":42380,"c":1.043},{"t":42410,"c":1.038},{"t":42440,"c":1.05},{"t":42470,"c":1.042},{"t":42500,"c":1.047},{"t":42530,"c":1.037},{"t":42560,"c":1.054},{"t":42590,"c":1.041},{"t":42620,"c":1.039},{"t":42650,"c":1.05},{"t":42680,"c":1.044},{"t":42710,"c":1.038},{"t":42740,"c":1.056},{"t":42770,"c":1.042},{"t":42800,"c":1.049},{"t":42830,"c":1.038},{"t":42860,"c":1.052},{"t":42890,"c":1.044},{"t":42920,"c":1.04},{"t":42950,"c":1.058},{"t":42980,"c":1.062},{"t":43010,"c":1.075},{"t":43030,"c":1.072},{"t":43050,"c":1.068},{"t":43070,"c":1.059},{"t":43090,"c":1.052},{"t":43120,"c":1.046},{"t":43150,"c":1.039},{"t":43180,"c":1.05},{"t":43210,"c":1.041},{"t":43240,"c":1.037},{"t":43270,"c":1.045},{"t":43300,"c":1.038},{"t":43330,"c":1.042},{"t":43360,"c":1.037},{"t":43390,"c":1.04},{"t":43420,"c":1.036},{"t":43450,"c":1.038},{"t":43480,"c":1.037},{"t":43510,"c":1.041},{"t":43540,"c":1.036},{"t":43570,"c":1.038},{"t":43600,"c":1.037},{"t":43630,"c":1.036},{"t":43660,"c":1.039},{"t":43690,"c":1.036},
{"t":43680,"c":1.037},{"t":43720,"c":1.036},{"t":43760,"c":1.038},{"t":43800,"c":1.0365},{"t":43840,"c":1.0355},{"t":43880,"c":1.0375},{"t":43920,"c":1.036},{"t":43960,"c":1.0385},{"t":44000,"c":1.0365},{"t":44040,"c":1.0355},{"t":44080,"c":1.0375},{"t":44120,"c":1.036},{"t":44160,"c":1.037},{"t":44200,"c":1.0355},{"t":44240,"c":1.038},{"t":44280,"c":1.0365},{"t":44320,"c":1.036},{"t":44360,"c":1.0375},{"t":44400,"c":1.036},{"t":44440,"c":1.037},{"t":44480,"c":1.0355},{"t":44520,"c":1.038},{"t":44560,"c":1.0365},{"t":44600,"c":1.036},{"t":44640,"c":1.0375},{"t":44680,"c":1.036},{"t":44720,"c":1.0385},{"t":44760,"c":1.0365},{"t":44800,"c":1.036},{"t":44840,"c":1.0375},{"t":44880,"c":1.0365},{"t":44920,"c":1.038},{"t":44960,"c":1.036},{"t":45000,"c":1.037},{"t":45040,"c":1.0365},{"t":45080,"c":1.038},{"t":45120,"c":1.0365},{"t":45160,"c":1.0375},{"t":45200,"c":1.036},{"t":45240,"c":1.0385},{"t":45280,"c":1.037},{"t":45320,"c":1.0365},{"t":45360,"c":1.038},{"t":45400,"c":1.037},{"t":45440,"c":1.0385},{"t":45480,"c":1.0365},{"t":45520,"c":1.0375},{"t":45560,"c":1.037},{"t":45600,"c":1.0385},{"t":45640,"c":1.0365},{"t":45680,"c":1.038},{"t":45720,"c":1.037},{"t":45760,"c":1.039},{"t":45800,"c":1.037},{"t":45840,"c":1.038},{"t":45880,"c":1.041},{"t":45920,"c":1.044},{"t":45940,"c":1.046},{"t":45960,"c":1.043},{"t":46000,"c":1.038},{"t":46040,"c":1.037},{"t":46080,"c":1.0385},{"t":46120,"c":1.037},{"t":46160,"c":1.038},{"t":46200,"c":1.0375},{"t":46240,"c":1.037},{"t":46280,"c":1.039},{"t":46320,"c":1.0375},{"t":46360,"c":1.037},{"t":46400,"c":1.0385},{"t":46440,"c":1.04},{"t":46480,"c":1.0375},{"t":46520,"c":1.044},{"t":46560,"c":1.038},{"t":46600,"c":1.045},{"t":46640,"c":1.0375},{"t":46680,"c":1.039},{"t":46720,"c":1.037},{"t":46760,"c":1.042},{"t":46800,"c":1.038},{"t":46840,"c":1.0375},{"t":46880,"c":1.04},{"t":46920,"c":1.037},{"t":46960,"c":1.038},{"t":47000,"c":1.043},{"t":47040,"c":1.038},
{"t":47050,"c":1.04},{"t":47080,"c":1.048},{"t":47110,"c":1.038},{"t":47140,"c":1.052},{"t":47170,"c":1.042},{"t":47200,"c":1.039},{"t":47230,"c":1.055},{"t":47260,"c":1.044},{"t":47290,"c":1.038},{"t":47320,"c":1.05},{"t":47350,"c":1.041},{"t":47380,"c":1.058},{"t":47410,"c":1.045},{"t":47440,"c":1.039},{"t":47470,"c":1.053},{"t":47500,"c":1.043},{"t":47530,"c":1.06},{"t":47560,"c":1.047},{"t":47590,"c":1.04},{"t":47620,"c":1.056},{"t":47650,"c":1.067},{"t":47670,"c":1.064},{"t":47690,"c":1.059},{"t":47710,"c":1.05},{"t":47740,"c":1.042},{"t":47770,"c":1.054},{"t":47800,"c":1.039},{"t":47830,"c":1.048},{"t":47860,"c":1.041},{"t":47890,"c":1.055},{"t":47920,"c":1.044},{"t":47950,"c":1.038},{"t":47980,"c":1.05},{"t":48010,"c":1.041},{"t":48040,"c":1.046},{"t":48070,"c":1.038},{"t":48100,"c":1.052},{"t":48130,"c":1.04},{"t":48160,"c":1.044},{"t":48190,"c":1.038},{"t":48220,"c":1.047},{"t":48250,"c":1.039},{"t":48280,"c":1.042},{"t":48310,"c":1.0375},
{"t":48330,"c":1.038},{"t":48370,"c":1.037},{"t":48410,"c":1.04},{"t":48450,"c":1.0375},{"t":48490,"c":1.045},{"t":48530,"c":1.038},{"t":48570,"c":1.037},{"t":48610,"c":1.042},{"t":48650,"c":1.038},{"t":48690,"c":1.047},{"t":48730,"c":1.0375},{"t":48770,"c":1.039},{"t":48810,"c":1.037},{"t":48850,"c":1.044},{"t":48890,"c":1.038},{"t":48930,"c":1.0375},{"t":48970,"c":1.04},{"t":49010,"c":1.037},{"t":49050,"c":1.0385},{"t":49090,"c":1.0375},{"t":49130,"c":1.042},{"t":49170,"c":1.038},{"t":49210,"c":1.037},{"t":49250,"c":1.0395},{"t":49290,"c":1.038},
{"t":49310,"c":1.045},{"t":49340,"c":1.038},{"t":49370,"c":1.081},{"t":49380,"c":1.078},{"t":49390,"c":1.075},{"t":49400,"c":1.063},{"t":49410,"c":1.059},{"t":49420,"c":1.056},{"t":49440,"c":1.053},{"t":49470,"c":1.048},{"t":49500,"c":1.04},{"t":49530,"c":1.045},{"t":49560,"c":1.038},{"t":49590,"c":1.05},{"t":49620,"c":1.042},{"t":49650,"c":1.038},{"t":49680,"c":1.046},{"t":49710,"c":1.039},{"t":49740,"c":1.038},{"t":49770,"c":1.044},{"t":49800,"c":1.038},{"t":49830,"c":1.04},{"t":49860,"c":1.0375},{"t":49890,"c":1.039},
{"t":49900,"c":1.038},{"t":49940,"c":1.037},{"t":49980,"c":1.039},{"t":50020,"c":1.0375},{"t":50060,"c":1.04},{"t":50100,"c":1.038},{"t":50140,"c":1.037},{"t":50180,"c":1.039},{"t":50220,"c":1.038},{"t":50260,"c":1.0375},{"t":50300,"c":1.0395},{"t":50340,"c":1.038},{"t":50380,"c":1.037},{"t":50420,"c":1.04},{"t":50460,"c":1.038},{"t":50500,"c":1.0375},{"t":50540,"c":1.039},{"t":50580,"c":1.038},{"t":50620,"c":1.037},{"t":50660,"c":1.0395},{"t":50700,"c":1.038},{"t":50740,"c":1.043},{"t":50780,"c":1.038},{"t":50820,"c":1.0375},{"t":50860,"c":1.039},{"t":50900,"c":1.038},{"t":50940,"c":1.037},{"t":50980,"c":1.0395},{"t":51020,"c":1.038},{"t":51060,"c":1.0385},{"t":51100,"c":1.0375},{"t":51140,"c":1.04},{"t":51180,"c":1.038},{"t":51220,"c":1.0375},{"t":51260,"c":1.039},{"t":51300,"c":1.038},{"t":51340,"c":1.0385},{"t":51380,"c":1.0375},{"t":51420,"c":1.04},{"t":51460,"c":1.0385},{"t":51500,"c":1.0375},{"t":51540,"c":1.0395},{"t":51580,"c":1.038},{"t":51620,"c":1.0385},{"t":51660,"c":1.0375},{"t":51700,"c":1.04},{"t":51740,"c":1.0385},{"t":51780,"c":1.038},{"t":51820,"c":1.0395},{"t":51860,"c":1.038},{"t":51900,"c":1.0385},{"t":51940,"c":1.038},{"t":51980,"c":1.04},{"t":52020,"c":1.0385},{"t":52060,"c":1.038},{"t":52100,"c":1.0395},{"t":52140,"c":1.0385},
{"t":52120,"c":1.038},{"t":52160,"c":1.0395},{"t":52200,"c":1.0385},{"t":52220,"c":1.046},{"t":52240,"c":1.049},{"t":52260,"c":1.07},{"t":52270,"c":1.056},{"t":52280,"c":1.052},{"t":52300,"c":1.044},{"t":52340,"c":1.0385},{"t":52380,"c":1.04},{"t":52420,"c":1.038},{"t":52460,"c":1.039},{"t":52500,"c":1.0385},{"t":52540,"c":1.04},{"t":52580,"c":1.038},{"t":52620,"c":1.0395},{"t":52660,"c":1.0385},{"t":52700,"c":1.04},{"t":52740,"c":1.039},{"t":52780,"c":1.038},{"t":52820,"c":1.041},{"t":52860,"c":1.039},{"t":52900,"c":1.0385},{"t":52940,"c":1.045},{"t":52970,"c":1.049},{"t":53000,"c":1.04},{"t":53040,"c":1.039},{"t":53080,"c":1.0385},{"t":53120,"c":1.04},{"t":53160,"c":1.039},{"t":53200,"c":1.0395},{"t":53240,"c":1.0385},{"t":53280,"c":1.0405},{"t":53320,"c":1.039},{"t":53360,"c":1.0395},{"t":53400,"c":1.0385},{"t":53440,"c":1.041},{"t":53480,"c":1.039},{"t":53520,"c":1.0395},{"t":53560,"c":1.039},{"t":53600,"c":1.04},{"t":53640,"c":1.039},{"t":53680,"c":1.041},{"t":53720,"c":1.0395},{"t":53760,"c":1.039},{"t":53800,"c":1.042},{"t":53840,"c":1.0395},{"t":53880,"c":1.044},{"t":53920,"c":1.04},{"t":53950,"c":1.046},{"t":53970,"c":1.114},{"t":53980,"c":1.078},{"t":53990,"c":1.076},{"t":54000,"c":1.063},{"t":54010,"c":1.059},{"t":54020,"c":1.052},{"t":54030,"c":1.049},{"t":54060,"c":1.043},{"t":54100,"c":1.0395},{"t":54140,"c":1.041},{"t":54180,"c":1.039},{"t":54220,"c":1.04},{"t":54260,"c":1.0385},{"t":54300,"c":1.0395},{"t":54340,"c":1.039},{"t":54380,"c":1.04},{"t":54420,"c":1.0385},{"t":54460,"c":1.0395},{"t":54500,"c":1.039},{"t":54540,"c":1.0405},{"t":54580,"c":1.039},{"t":54620,"c":1.0395},{"t":54660,"c":1.0385},{"t":54700,"c":1.04},{"t":54740,"c":1.039},{"t":54780,"c":1.0405},{"t":54820,"c":1.039},{"t":54860,"c":1.0395},{"t":54900,"c":1.0385},{"t":54940,"c":1.04},{"t":54980,"c":1.039},{"t":55020,"c":1.0405},{"t":55060,"c":1.0395},{"t":55100,"c":1.039},{"t":55140,"c":1.041},{"t":55180,"c":1.0395},{"t":55220,"c":1.04},{"t":55260,"c":1.039},{"t":55300,"c":1.041},{"t":55340,"c":1.04},{"t":55380,"c":1.044},{"t":55420,"c":1.046},
{"t":420,"c":1.036},{"t":470,"c":1.034},{"t":530,"c":1.042},{"t":600,"c":1.038},{"t":660,"c":1.036},{"t":720,"c":1.041},{"t":790,"c":1.039},{"t":850,"c":1.037},{"t":900,"c":1.043},{"t":960,"c":1.034},{"t":1030,"c":1.039},{"t":1090,"c":1.044},{"t":1140,"c":1.037},{"t":1210,"c":1.045},{"t":1270,"c":1.036},{"t":1330,"c":1.041},{"t":1390,"c":1.037},{"t":1450,"c":1.043},{"t":1510,"c":1.036},{"t":1580,"c":1.034},{"t":1650,"c":1.037},{"t":1710,"c":1.033},{"t":1790,"c":1.036},{"t":1860,"c":1.034},{"t":1940,"c":1.032},{"t":2010,"c":1.035},{"t":2090,"c":1.031},{"t":2160,"c":1.034},{"t":2240,"c":1.032},{"t":2310,"c":1.036},{"t":2400,"c":1.034},{"t":2470,"c":1.04},
{"t":2530,"c":1.036},{"t":2610,"c":1.038},{"t":2680,"c":1.034},{"t":2770,"c":1.032},{"t":2850,"c":1.034},{"t":2940,"c":1.033},{"t":3010,"c":1.031},{"t":3090,"c":1.035},{"t":3160,"c":1.034},{"t":3240,"c":1.04},{"t":3310,"c":1.033},{"t":3400,"c":1.031},{"t":3470,"c":1.033},{"t":3550,"c":1.032},
{"t":3660,"c":1.034},{"t":3720,"c":1.037},{"t":3790,"c":1.035},{"t":3860,"c":1.042},{"t":3940,"c":1.036},{"t":4010,"c":1.033},{"t":4080,"c":1.046},{"t":4140,"c":1.039},{"t":4200,"c":1.035},{"t":4290,"c":1.042},{"t":4350,"c":1.037},{"t":4410,"c":1.045},{"t":4470,"c":1.034},{"t":4530,"c":1.038},
{"t":4610,"c":1.052},{"t":4680,"c":1.046},{"t":4740,"c":1.051},{"t":4800,"c":1.043},{"t":4860,"c":1.057},{"t":4960,"c":1.049},{"t":5020,"c":1.054},{"t":5080,"c":1.047},{"t":5140,"c":1.055},{"t":5200,"c":1.046},{"t":5260,"c":1.04},{"t":5320,"c":1.051},{"t":5380,"c":1.045},{"t":5440,"c":1.042},{"t":5500,"c":1.053},{"t":5560,"c":1.044},{"t":5620,"c":1.05},{"t":5680,"c":1.041},{"t":5740,"c":1.047},{"t":5800,"c":1.039},{"t":5860,"c":1.044},{"t":5920,"c":1.038},{"t":5980,"c":1.036},
{"t":6110,"c":1.032},{"t":6230,"c":1.031},{"t":6350,"c":1.033},{"t":6470,"c":1.03},{"t":6590,"c":1.032},{"t":6710,"c":1.031},{"t":6830,"c":1.033},{"t":6950,"c":1.032},{"t":7070,"c":1.031},{"t":7190,"c":1.033},{"t":7310,"c":1.031},{"t":7430,"c":1.032},{"t":7550,"c":1.031},{"t":7670,"c":1.033},{"t":7790,"c":1.032},{"t":7910,"c":1.031},
{"t":8470,"c":1.05},{"t":8530,"c":1.046},{"t":8590,"c":1.043},{"t":8650,"c":1.052},{"t":8710,"c":1.041},{"t":8770,"c":1.045},{"t":8830,"c":1.039},{"t":8890,"c":1.051},{"t":8950,"c":1.043},{"t":9010,"c":1.037},{"t":9070,"c":1.046},{"t":9130,"c":1.048},{"t":9190,"c":1.039},{"t":9250,"c":1.044},{"t":9310,"c":1.05},{"t":9370,"c":1.042},{"t":9430,"c":1.047},{"t":9490,"c":1.041},
{"t":9560,"c":1.046},{"t":9620,"c":1.05},{"t":9680,"c":1.041},{"t":9740,"c":1.047},{"t":9800,"c":1.043},{"t":9860,"c":1.049},{"t":9920,"c":1.04},{"t":9980,"c":1.051},{"t":10040,"c":1.044},{"t":10100,"c":1.047},{"t":10160,"c":1.041},{"t":10220,"c":1.045},{"t":10280,"c":1.05},{"t":10340,"c":1.043},{"t":10400,"c":1.047},{"t":10460,"c":1.039},
{"t":10520,"c":1.044},{"t":10580,"c":1.05},{"t":10640,"c":1.047},{"t":10700,"c":1.041},{"t":10760,"c":1.052},{"t":10820,"c":1.044},{"t":10880,"c":1.049},{"t":10940,"c":1.054},{"t":11000,"c":1.046},{"t":11060,"c":1.04},{"t":11120,"c":1.051},{"t":11180,"c":1.045},{"t":11240,"c":1.055},{"t":11300,"c":1.048},{"t":11360,"c":1.043},{"t":11420,"c":1.053},{"t":11480,"c":1.047},{"t":11540,"c":1.041},{"t":11600,"c":1.05},{"t":11660,"c":1.055},{"t":11720,"c":1.044},{"t":11780,"c":1.049},{"t":11840,"c":1.052},{"t":11900,"c":1.043},{"t":11960,"c":1.047},{"t":12020,"c":1.05},{"t":12080,"c":1.044},{"t":12140,"c":1.041},{"t":12200,"c":1.048},{"t":12260,"c":1.043},{"t":12320,"c":1.046},{"t":12380,"c":1.04},{"t":12440,"c":1.044},{"t":12500,"c":1.039},
{"t":12640,"c":1.038},{"t":12720,"c":1.035},{"t":12800,"c":1.041},{"t":12880,"c":1.036},{"t":12960,"c":1.033},{"t":13040,"c":1.038},{"t":13120,"c":1.035},{"t":13200,"c":1.034},{"t":13280,"c":1.037},{"t":13360,"c":1.033},{"t":13440,"c":1.035},{"t":13600,"c":1.034},{"t":13680,"c":1.037},{"t":13760,"c":1.034},{"t":13840,"c":1.032},{"t":13920,"c":1.035},{"t":14000,"c":1.033},{"t":14080,"c":1.036},{"t":14160,"c":1.032},{"t":14240,"c":1.034},{"t":14320,"c":1.033},{"t":14400,"c":1.036},{"t":14480,"c":1.034},{"t":14560,"c":1.037},
{"t":14640,"c":1.048},{"t":14700,"c":1.043},{"t":14760,"c":1.051},{"t":14820,"c":1.045},{"t":14880,"c":1.048},{"t":14940,"c":1.041},{"t":15000,"c":1.052},{"t":15060,"c":1.044},{"t":15120,"c":1.048},{"t":15180,"c":1.04},{"t":15240,"c":1.045},{"t":15300,"c":1.042},{"t":15360,"c":1.049},{"t":15420,"c":1.04},{"t":15480,"c":1.046},{"t":15540,"c":1.043},{"t":15600,"c":1.038},{"t":15660,"c":1.044},{"t":15720,"c":1.04},{"t":15780,"c":1.043},{"t":15840,"c":1.038},{"t":15900,"c":1.042},{"t":15960,"c":1.037},
{"t":16040,"c":1.042},{"t":16100,"c":1.045},{"t":16160,"c":1.038},{"t":16220,"c":1.046},{"t":16280,"c":1.041},{"t":16340,"c":1.044},{"t":16400,"c":1.039},{"t":16460,"c":1.043},{"t":16520,"c":1.046},{"t":16580,"c":1.038},{"t":16640,"c":1.042},{"t":16700,"c":1.045},{"t":16760,"c":1.04},{"t":16820,"c":1.037},{"t":16880,"c":1.041},{"t":16940,"c":1.036},{"t":17000,"c":1.039},{"t":17060,"c":1.035},{"t":17120,"c":1.038},{"t":17180,"c":1.036},{"t":17240,"c":1.034},{"t":17300,"c":1.037},{"t":17360,"c":1.035},
{"t":17480,"c":1.045},{"t":17540,"c":1.049},{"t":17600,"c":1.041},{"t":17660,"c":1.046},{"t":17720,"c":1.052},{"t":17780,"c":1.043},{"t":17840,"c":1.048},{"t":17900,"c":1.051},{"t":17960,"c":1.044},{"t":18020,"c":1.055},{"t":18080,"c":1.047},{"t":18140,"c":1.05},{"t":18200,"c":1.046},{"t":18260,"c":1.052},{"t":18320,"c":1.043},{"t":18380,"c":1.049},{"t":18440,"c":1.044},{"t":18500,"c":1.041},{"t":18560,"c":1.038},
{"t":19720,"c":1.044},{"t":19780,"c":1.04},{"t":19840,"c":1.046},{"t":19900,"c":1.049},{"t":19960,"c":1.043},{"t":20020,"c":1.047},{"t":20080,"c":1.051},{"t":20140,"c":1.044},{"t":20200,"c":1.049},{"t":20260,"c":1.042},{"t":20320,"c":1.046},{"t":20380,"c":1.05},{"t":20440,"c":1.043},{"t":20500,"c":1.047},{"t":20560,"c":1.051},{"t":20620,"c":1.045},{"t":20680,"c":1.048},{"t":20740,"c":1.041},{"t":20800,"c":1.045},{"t":20860,"c":1.049},{"t":20920,"c":1.043},{"t":20980,"c":1.046},{"t":21040,"c":1.05},{"t":21160,"c":1.047},{"t":21220,"c":1.043},{"t":21280,"c":1.04},{"t":21340,"c":1.037},{"t":21400,"c":1.039},{"t":21460,"c":1.035},
{"t":21540,"c":1.04},{"t":21600,"c":1.043},{"t":21660,"c":1.046},{"t":21720,"c":1.041},{"t":21780,"c":1.048},{"t":21840,"c":1.044},{"t":21900,"c":1.051},{"t":21960,"c":1.046},{"t":22020,"c":1.042},{"t":22080,"c":1.048},{"t":22140,"c":1.044},{"t":22200,"c":1.047},{"t":22380,"c":1.041},{"t":22440,"c":1.038},{"t":22500,"c":1.037},{"t":22560,"c":1.035},
{"t":25430,"c":1.045},{"t":25490,"c":1.051},{"t":25550,"c":1.048},{"t":25610,"c":1.054},{"t":25670,"c":1.049},{"t":25760,"c":1.056},{"t":25820,"c":1.05},{"t":25880,"c":1.053},{"t":25940,"c":1.044},{"t":26000,"c":1.055},{"t":26060,"c":1.047},{"t":26120,"c":1.051},{"t":26180,"c":1.045},{"t":26240,"c":1.049},{"t":26300,"c":1.053},{"t":26360,"c":1.044},{"t":26420,"c":1.046},{"t":26480,"c":1.041},{"t":26540,"c":1.047},{"t":26600,"c":1.039},
{"t":26700,"c":1.038},{"t":26780,"c":1.036},{"t":26860,"c":1.039},{"t":26940,"c":1.035},{"t":27020,"c":1.038},{"t":27100,"c":1.036},{"t":27180,"c":1.037},{"t":27260,"c":1.035},{"t":27340,"c":1.036},
{"t":27420,"c":1.042},{"t":27480,"c":1.046},{"t":27540,"c":1.041},{"t":27600,"c":1.048},{"t":27660,"c":1.044},{"t":27720,"c":1.046},{"t":27780,"c":1.041},{"t":27840,"c":1.048},{"t":27900,"c":1.045},{"t":27960,"c":1.05},{"t":28020,"c":1.046},{"t":28080,"c":1.044},{"t":28140,"c":1.05},{"t":28200,"c":1.047},{"t":28280,"c":1.043},{"t":28340,"c":1.047},{"t":28400,"c":1.043},{"t":28460,"c":1.046},{"t":28520,"c":1.042},{"t":28580,"c":1.045},{"t":28640,"c":1.048},{"t":28700,"c":1.044},{"t":28760,"c":1.051},{"t":28820,"c":1.046},{"t":28880,"c":1.043},{"t":28940,"c":1.04},{"t":29000,"c":1.044},{"t":29060,"c":1.04},{"t":29120,"c":1.043},{"t":29180,"c":1.038},{"t":29240,"c":1.042},{"t":29300,"c":1.039},
{"t":29360,"c":1.042},{"t":29420,"c":1.046},{"t":29480,"c":1.04},{"t":29540,"c":1.044},{"t":29600,"c":1.047},{"t":29660,"c":1.041},{"t":29760,"c":1.043},{"t":29820,"c":1.039},{"t":29880,"c":1.045},{"t":29940,"c":1.041},{"t":30000,"c":1.038},{"t":30060,"c":1.041},{"t":30120,"c":1.037},{"t":30180,"c":1.036},{"t":30240,"c":1.039},{"t":30300,"c":1.035},{"t":30360,"c":1.036},{"t":30420,"c":1.034},{"t":30480,"c":1.035},
{"t":30530,"c":1.039},{"t":30590,"c":1.043},{"t":30650,"c":1.038},{"t":30710,"c":1.041},{"t":30770,"c":1.038},{"t":30830,"c":1.044},{"t":30890,"c":1.04},{"t":30950,"c":1.043},{"t":31010,"c":1.039},{"t":31130,"c":1.038},{"t":31190,"c":1.036},
{"t":33530,"c":1.04},{"t":33590,"c":1.045},{"t":33650,"c":1.043},{"t":33740,"c":1.052},{"t":33800,"c":1.055},{"t":33860,"c":1.049},{"t":33920,"c":1.053},{"t":33980,"c":1.048},{"t":34040,"c":1.056},{"t":34100,"c":1.05},{"t":34160,"c":1.054},{"t":34220,"c":1.049},{"t":34280,"c":1.052},{"t":34340,"c":1.058},{"t":34440,"c":1.054},{"t":34500,"c":1.051},{"t":34560,"c":1.048},{"t":34620,"c":1.053},{"t":34680,"c":1.047},{"t":34740,"c":1.05},{"t":34800,"c":1.055},{"t":34860,"c":1.048},{"t":34920,"c":1.052},{"t":34980,"c":1.049},{"t":35040,"c":1.046},{"t":35100,"c":1.052},{"t":35200,"c":1.05},{"t":35260,"c":1.047},{"t":35320,"c":1.05},{"t":35380,"c":1.045},{"t":35440,"c":1.05},{"t":35500,"c":1.046},{"t":35560,"c":1.049},{"t":35620,"c":1.044},{"t":35680,"c":1.048},{"t":35740,"c":1.046},{"t":35800,"c":1.044},{"t":35860,"c":1.042},{"t":35920,"c":1.041},
{"t":36840,"c":1.043},{"t":36900,"c":1.046},{"t":36960,"c":1.048},{"t":37020,"c":1.044},{"t":37080,"c":1.05},{"t":37140,"c":1.046},{"t":37190,"c":1.041},{"t":37250,"c":1.045},{"t":37310,"c":1.048},{"t":37370,"c":1.043},{"t":37430,"c":1.042},{"t":37490,"c":1.046},{"t":37550,"c":1.041},{"t":37610,"c":1.047},{"t":37730,"c":1.043},{"t":37790,"c":1.041},{"t":37850,"c":1.04},{"t":37910,"c":1.039},{"t":37970,"c":1.04},
{"t":40170,"c":1.042},{"t":40230,"c":1.048},{"t":40290,"c":1.045},{"t":40350,"c":1.043},{"t":40410,"c":1.047},{"t":40490,"c":1.048},{"t":40550,"c":1.045},{"t":40610,"c":1.049},{"t":40670,"c":1.044},{"t":40730,"c":1.046},{"t":40790,"c":1.043},{"t":40850,"c":1.048},{"t":40910,"c":1.045},{"t":40970,"c":1.042},{"t":41030,"c":1.05},{"t":41090,"c":1.046},{"t":41150,"c":1.043},{"t":41210,"c":1.048},{"t":41340,"c":1.045},{"t":41400,"c":1.047},{"t":41460,"c":1.044},{"t":41520,"c":1.047},{"t":41580,"c":1.042},{"t":41650,"c":1.043},
{"t":41950,"c":1.04},{"t":42010,"c":1.043},{"t":42070,"c":1.045},{"t":42130,"c":1.041},{"t":42190,"c":1.047},{"t":42250,"c":1.043},{"t":42310,"c":1.045},{"t":42370,"c":1.048},{"t":42430,"c":1.044},{"t":42490,"c":1.046},{"t":42550,"c":1.042},{"t":42610,"c":1.045},{"t":42670,"c":1.047},{"t":42730,"c":1.043},{"t":42790,"c":1.046},{"t":42850,"c":1.043},{"t":42910,"c":1.047},{"t":43100,"c":1.043},{"t":43160,"c":1.041},{"t":43220,"c":1.04},
{"t":47070,"c":1.044},{"t":47130,"c":1.047},{"t":47190,"c":1.044},{"t":47250,"c":1.049},{"t":47310,"c":1.046},{"t":47370,"c":1.05},{"t":47430,"c":1.045},{"t":47490,"c":1.048},{"t":47550,"c":1.052},{"t":47610,"c":1.047},{"t":47730,"c":1.046},{"t":47790,"c":1.049},{"t":47850,"c":1.045},{"t":47910,"c":1.048},{"t":47970,"c":1.044},{"t":48030,"c":1.046},{"t":48090,"c":1.042},{"t":48150,"c":1.045},{"t":48210,"c":1.042},{"t":48270,"c":1.041}
]},
"data": {"name": "pts"},
"layer": [
  {
    "mark": {"type": "point", "filled": true, "size": 10, "color": "black", "opacity": 1, "strokeWidth": 0},
    "encoding": {
      "x": {"field": "t", "type": "quantitative", "scale": {"domain": [0, 60940], "nice": false, "zero": false},
            "axis": {"orient": "bottom", "values": [0, 10000, 20000, 30000, 40000, 50000, 60000], "format": "d", "ticks": false, "labelFontSize": 14, "labelPadding": 4, "labelFlush": false, "labelOverlap": false, "labelBound": false,
                     "title": "time[s]", "titleFontSize": 14, "titleAnchor": "end", "titleAlign": "right", "titleBaseline": "alphabetic", "titleX": 498, "titleY": 29, "titleAngle": 0}},
      "y": {"field": "c", "type": "quantitative", "scale": {"domain": [0.9865, 1.1393], "nice": false, "zero": false},
            "axis": {"orient": "left", "values": [1, 1.02, 1.04, 1.06, 1.08, 1.1, 1.12], "labelExpr": "format(datum.value, '.2~f')", "ticks": false, "labelFontSize": 14, "labelPadding": 4, "labelFlush": false, "labelOverlap": false, "labelBound": false,
                     "title": "current[A]", "titleFontSize": 14, "titleAngle": -90, "titleAlign": "right", "titleBaseline": "middle", "titleX": -35, "titleY": -3}}
    }
  },
  {
    "mark": {"type": "point", "opacity": 0},
    "encoding": {
      "x": {"field": "t", "type": "quantitative", "axis": {"orient": "bottom", "values": [0, 10000, 20000, 30000, 40000, 50000, 60000], "labels": false, "ticks": true, "tickSize": -11, "tickWidth": 1, "title": null}},
      "y": {"field": "c", "type": "quantitative", "axis": {"orient": "left", "values": [1, 1.02, 1.04, 1.06, 1.08, 1.1, 1.12], "labels": false, "ticks": true, "tickSize": -15, "tickWidth": 1,
            "title": "×10⁻⁹", "titleFontSize": 14, "titleAngle": 0, "titleAlign": "left", "titleBaseline": "bottom", "titleX": 0, "titleY": -1}}
    }
  },
  {
    "mark": {"type": "point", "opacity": 0},
    "encoding": {
      "x": {"field": "t", "type": "quantitative", "axis": {"orient": "bottom", "values": [0,2000,4000,6000,8000,10000,12000,14000,16000,18000,20000,22000,24000,26000,28000,30000,32000,34000,36000,38000,40000,42000,44000,46000,48000,50000,52000,54000,56000,58000,60000], "labels": false, "ticks": true, "tickSize": -5.5, "tickWidth": 1, "title": null}},
      "y": {"field": "c", "type": "quantitative", "axis": {"orient": "left", "values": [0.988,0.992,0.996,1,1.004,1.008,1.012,1.016,1.02,1.024,1.028,1.032,1.036,1.04,1.044,1.048,1.052,1.056,1.06,1.064,1.068,1.072,1.076,1.08,1.084,1.088,1.092,1.096,1.1,1.104,1.108,1.112,1.116,1.12,1.124,1.128,1.132,1.136], "labels": false, "ticks": true, "tickSize": -7.5, "tickWidth": 1, "title": null}}
    }
  }
],
"resolve": {"axis": {"x": "independent", "y": "independent"}}
}
